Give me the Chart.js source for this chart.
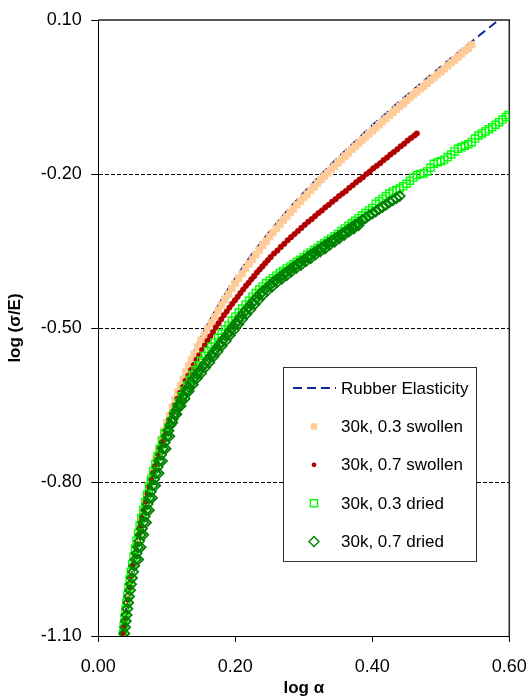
<!DOCTYPE html>
<html>
<head>
<meta charset="utf-8">
<script src="https://cdn.jsdelivr.net/npm/chart.js@4.4.1/dist/chart.umd.min.js"></script>
<style>
  html, body { margin: 0; padding: 0; background: #ffffff; }
  canvas { display: block; }
</style>
</head>
<body>
<canvas id="c" width="528" height="699"></canvas>
<script>
// ---------------- DATA ----------------
const seriesLabels = ['Rubber Elasticity', '30k, 0.3 swollen', '30k, 0.7 swollen', '30k, 0.3 dried', '30k, 0.7 dried'];
const xTickValues = [0.00, 0.20, 0.40, 0.60];
const yTickValues = [-1.10, -0.80, -0.50, -0.20, 0.10];

const rubberX = [0.035,0.04,0.045,0.05,0.055,0.06,0.065,0.07,0.08,0.09,0.10,0.11,0.12,0.13,0.14,0.15,0.16,0.17,0.18,0.19,0.20,0.22,0.24,0.26,0.28,0.30,0.32,0.34,0.36,0.38,0.40,0.42,0.44,0.46,0.48,0.50,0.52,0.54,0.56,0.58,0.59];
const rubberY = [-1.110,-1.054,-1.005,-0.962,-0.922,-0.887,-0.854,-0.823,-0.769,-0.722,-0.679,-0.641,-0.606,-0.574,-0.545,-0.517,-0.492,-0.468,-0.445,-0.423,-0.403,-0.364,-0.329,-0.296,-0.265,-0.236,-0.208,-0.181,-0.155,-0.130,-0.105,-0.082,-0.058,-0.036,-0.013,0.009,0.031,0.052,0.074,0.095,0.105];

const swollen03X = [0.037,0.038,0.040,0.042,0.044,0.046,0.048,0.050,0.053,0.056,0.059,0.062,0.065,0.068,0.071,0.074,0.077,0.080,0.084,0.088,0.092,0.096,0.100,0.104,0.108,0.112,0.116,0.120,0.124,0.128,0.132,0.136,0.140,0.145,0.150,
  0.155,0.160,0.165,0.170,0.175,0.180,0.185,0.190,0.195,0.200,0.205,0.210,0.215,0.220,0.225,0.230,0.235,0.240,0.245,0.250,0.255,0.260,0.265,0.270,0.275,0.280,0.285,0.290,0.295,0.300,0.305,0.310,0.315,0.320,0.325,0.330,0.335,0.340,0.345,0.350,0.355,0.360,0.365,0.370,0.375,0.380,0.385,0.390,0.395,0.400,0.405,0.410,0.415,0.420,0.425,0.430,0.435,0.440,0.445,0.450,0.455,0.460,0.465,0.470,0.475,0.480,0.485,0.490,0.495,0.500,0.505,0.510,0.515,0.520,0.525,0.530,0.535,0.540,0.545];
const swollen03Y = [-1.095,-1.080,-1.058,-1.038,-1.018,-1.000,-0.983,-0.966,-0.943,-0.920,-0.898,-0.878,-0.858,-0.840,-0.822,-0.805,-0.789,-0.774,-0.755,-0.735,-0.717,-0.700,-0.684,-0.670,-0.654,-0.640,-0.625,-0.612,-0.600,-0.586,-0.574,-0.562,-0.551,-0.537,-0.524,
  -0.514,-0.501,-0.490,-0.478,-0.466,-0.455,-0.444,-0.434,-0.423,-0.413,-0.403,-0.394,-0.384,-0.375,-0.366,-0.357,-0.348,-0.339,-0.331,-0.322,-0.314,-0.306,-0.298,-0.290,-0.283,-0.275,-0.268,-0.260,-0.253,-0.246,-0.239,-0.232,-0.225,-0.218,-0.211,-0.204,-0.198,-0.191,-0.185,-0.178,-0.172,-0.165,-0.159,-0.152,-0.146,-0.140,-0.134,-0.128,-0.122,-0.116,-0.110,-0.104,-0.098,-0.092,-0.086,-0.080,-0.074,-0.068,-0.063,-0.057,-0.051,-0.045,-0.040,-0.034,-0.029,-0.023,-0.017,-0.012,-0.006,-0.001,0.005,0.011,0.017,0.022,0.028,0.034,0.040,0.045,0.052];

const swollen07X = [0.0365,0.0385,0.0397,0.041,0.0435,0.046,0.0485,0.0515,0.054,0.0565,0.059,0.0615,0.064,0.067,0.0695,0.072,0.0745,0.0775,0.080,0.0825,0.085,0.0875,0.0905,0.093,0.096,0.0985,0.101,
  0.1035,0.1075,0.1115,0.1155,0.1195,0.1235,0.1275,0.1315,0.1355,0.1395,0.1435,0.1475,0.1515,0.1555,0.1595,0.1635,0.1675,0.1715,0.1755,0.1795,0.1835,0.1875,0.1915,0.1955,0.1995,0.2035,0.2075,0.2115,0.2155,0.2195,0.2235,0.2275,0.2315,0.2355,0.2395,0.2435,0.2475,0.2515,
  0.2565,0.2615,0.2665,0.2715,0.2765,0.2815,0.2865,0.2915,0.2965,0.3015,0.3065,0.3115,0.3165,0.3215,0.3265,0.3315,0.3365,0.3415,0.3465,0.3515,0.3565,0.3615,0.3665,0.3715,0.3765,0.3815,0.3865,0.3915,0.3965,0.4015,0.4065,0.4115,0.4165,0.4215,0.4265,0.4315,0.4365,0.4415,0.4465,0.4515,0.4565,0.4615,0.465];
const swollen07Y = [-1.094,-1.081,-1.067,-1.054,-1.029,-1.005,-0.983,-0.962,-0.941,-0.922,-0.904,-0.887,-0.870,-0.854,-0.838,-0.823,-0.809,-0.795,-0.782,-0.769,-0.757,-0.745,-0.733,-0.722,-0.711,-0.700,-0.690,
  -0.679,-0.665,-0.651,-0.638,-0.626,-0.615,-0.603,-0.593,-0.582,-0.572,-0.562,-0.553,-0.543,-0.534,-0.525,-0.516,-0.508,-0.499,-0.491,-0.483,-0.475,-0.468,-0.460,-0.453,-0.446,-0.439,-0.432,-0.425,-0.418,-0.412,-0.405,-0.399,-0.392,-0.386,-0.380,-0.374,-0.368,-0.362,
  -0.355,-0.349,-0.342,-0.336,-0.329,-0.323,-0.317,-0.311,-0.305,-0.299,-0.293,-0.288,-0.282,-0.276,-0.271,-0.265,-0.260,-0.254,-0.249,-0.243,-0.238,-0.233,-0.227,-0.222,-0.216,-0.211,-0.206,-0.200,-0.195,-0.189,-0.184,-0.179,-0.173,-0.168,-0.162,-0.157,-0.152,-0.146,-0.141,-0.135,-0.130,-0.125,-0.121];

const dried03X = [0.0360,0.0370,0.0382,0.0395,0.0409,0.0424,0.0440,0.0457,0.0475,0.0494,0.0514,0.0535,0.0557,0.0580,0.0604,0.0629,0.0655,0.0682,0.0710,0.0739,0.0769,0.0800,0.0832,0.0864,0.0897,0.0931,0.0966,
  0.102,0.106,0.110,0.114,0.118,0.122,0.126,0.130,0.134,0.138,0.142,0.146,0.150,
  0.155,0.160,0.165,0.170,0.175,0.180,0.185,0.190,0.195,0.200,0.205,0.210,0.215,0.220,0.225,0.230,0.235,0.240,0.245,0.250,0.255,0.260,0.265,0.270,0.275,0.280,0.285,0.290,0.295,0.300,0.305,0.310,0.315,0.320,0.325,0.330,0.335,0.340,0.345,0.350,0.355,0.360,0.365,0.370,0.375,0.380,0.385,0.390,0.395,0.400,0.405,0.410,0.415,0.420,0.425,0.430,0.435,0.440,
  0.445,0.450,0.455,0.460,0.465,0.470,0.475,0.480,0.485,0.490,0.495,0.500,0.505,0.510,0.515,0.520,0.525,0.530,0.535,0.540,0.545,0.550,0.555,0.560,0.565,0.570,0.575,0.580,0.585,0.590,0.595,0.599];
const dried03Y = [-1.095,-1.080,-1.065,-1.050,-1.035,-1.020,-1.005,-0.990,-0.975,-0.960,-0.945,-0.930,-0.915,-0.900,-0.885,-0.870,-0.855,-0.840,-0.825,-0.810,-0.795,-0.780,-0.765,-0.750,-0.735,-0.720,-0.705,
  -0.694,-0.681,-0.668,-0.656,-0.645,-0.633,-0.622,-0.612,-0.601,-0.591,-0.582,-0.573,-0.564,
  -0.554,-0.545,-0.536,-0.528,-0.519,-0.511,-0.503,-0.495,-0.486,-0.478,-0.470,-0.462,-0.454,-0.447,-0.439,-0.432,-0.425,-0.419,-0.413,-0.408,-0.403,-0.398,-0.393,-0.389,-0.384,-0.380,-0.376,-0.371,-0.367,-0.362,-0.357,-0.353,-0.348,-0.344,-0.339,-0.335,-0.330,-0.326,-0.321,-0.317,-0.311,-0.306,-0.301,-0.296,-0.291,-0.286,-0.281,-0.276,-0.271,-0.266,-0.258,-0.253,-0.248,-0.243,-0.238,-0.234,-0.231,-0.228,
  -0.224,-0.219,-0.213,-0.207,-0.202,-0.200,-0.199,-0.195,-0.188,-0.180,-0.177,-0.175,-0.172,-0.167,-0.162,-0.156,-0.151,-0.148,-0.145,-0.142,-0.138,-0.131,-0.125,-0.121,-0.117,-0.113,-0.109,-0.104,-0.099,-0.094,-0.089,-0.085];

const dried07X = [0.0380,0.0391,0.0402,0.0413,0.0425,0.0437,0.0450,0.0464,0.0478,0.0493,0.0509,0.0525,0.0542,0.0560,0.0578,0.0597,0.0616,0.0636,0.0656,0.0677,0.0699,0.0721,0.0744,0.0767,0.0791,0.0815,0.0840,0.0865,0.0890,0.0916,0.0942,0.0969,0.0997,
  0.1025,0.1055,0.1085,0.1115,0.1145,0.1180,0.1215,0.1250,0.1285,0.1320,0.1360,0.1400,0.1440,0.1480,0.1520,0.1560,0.1600,0.1640,0.1680,0.1720,0.1760,0.1800,0.1840,0.1880,0.1920,0.1960,0.2000,0.2040,0.2080,0.2120,0.2160,0.2200,0.2240,0.2280,0.2320,0.2360,
  0.240,0.245,0.250,0.255,0.260,0.265,0.270,0.275,0.280,0.285,0.290,0.295,0.300,0.305,0.310,0.315,0.320,0.325,0.330,0.335,0.340,0.345,0.350,0.355,0.360,0.365,0.370,0.375,0.380,0.385,0.390,0.395,0.400,0.405,0.410,0.415,0.420,0.425,0.430,0.435,0.440,
  0.0582,0.0618,0.0656,0.0696,0.0739,0.0784,0.0831,0.0880,0.0930,0.0982,0.1037,
  0.108,0.114,0.120,0.126,0.132,0.138,0.144,0.150,0.156,0.162,0.168,0.174,0.180,0.186,0.192,0.198,0.204,0.210,0.216,0.222,0.228,0.234,0.240,
  0.247,0.254,0.261,0.268,0.275,0.282,0.289,0.296,0.303,0.310,0.317,0.324,0.331,0.338,0.345,0.352,0.359,0.366,0.373,0.380];
const dried07Y = [-1.095,-1.083,-1.071,-1.059,-1.047,-1.035,-1.023,-1.011,-0.999,-0.987,-0.975,-0.963,-0.951,-0.939,-0.927,-0.915,-0.903,-0.891,-0.879,-0.867,-0.855,-0.843,-0.831,-0.819,-0.807,-0.795,-0.783,-0.771,-0.759,-0.747,-0.735,-0.723,-0.711,
  -0.700,-0.689,-0.678,-0.668,-0.659,-0.650,-0.641,-0.632,-0.623,-0.615,-0.606,-0.598,-0.590,-0.583,-0.576,-0.569,-0.562,-0.555,-0.548,-0.541,-0.534,-0.527,-0.520,-0.513,-0.506,-0.499,-0.492,-0.485,-0.478,-0.471,-0.465,-0.459,-0.452,-0.446,-0.440,-0.434,
  -0.429,-0.423,-0.417,-0.411,-0.406,-0.401,-0.396,-0.391,-0.386,-0.381,-0.376,-0.372,-0.367,-0.362,-0.358,-0.353,-0.349,-0.344,-0.340,-0.335,-0.331,-0.326,-0.322,-0.317,-0.313,-0.308,-0.304,-0.299,-0.295,-0.290,-0.286,-0.281,-0.277,-0.273,-0.268,-0.264,-0.260,-0.255,-0.251,-0.247,-0.243,
  -0.951,-0.927,-0.903,-0.879,-0.855,-0.831,-0.807,-0.783,-0.759,-0.735,-0.711,
  -0.684,-0.668,-0.652,-0.638,-0.623,-0.610,-0.598,-0.588,-0.577,-0.567,-0.556,-0.546,-0.535,-0.525,-0.514,-0.504,-0.493,-0.483,-0.473,-0.464,-0.454,-0.445,-0.436,
  -0.427,-0.419,-0.411,-0.404,-0.397,-0.390,-0.383,-0.377,-0.370,-0.364,-0.357,-0.351,-0.345,-0.338,-0.332,-0.325,-0.319,-0.312,-0.306,-0.300];

// ---------------- HELPERS ----------------
function pts(xs, ys) { return xs.map((x, i) => ({ x: x, y: ys[i] })); }
const FONT = '"Liberation Sans", Arial, Helvetica, sans-serif';
Chart.defaults.font.family = FONT;
Chart.defaults.color = '#000000';

const COLORS = {
  rubber: '#0A2A96',
  s03: '#FFCC99',
  s07: '#B00000',
  d03: '#00FF00',
  d07: '#008000'
};

const legendSpec = [
  { kind: 'line', color: COLORS.rubber },
  { kind: 'rect', fill: COLORS.s03, size: 6.4 },
  { kind: 'circle', fill: COLORS.s07, r: 2.4 },
  { kind: 'rectOpen', stroke: COLORS.d03, size: 7.2 },
  { kind: 'diamond', stroke: COLORS.d07, r: 5 }
];

const frameAndLegend = {
  id: 'frameAndLegend',
  beforeDatasetsDraw(chart) {
    const { ctx, chartArea: a } = chart;
    ctx.save();
    ctx.strokeStyle = '#222222';
    ctx.lineWidth = 1.5;
    ctx.beginPath();
    ctx.moveTo(a.left, a.top);
    ctx.lineTo(a.right, a.top);
    ctx.lineTo(a.right, a.bottom);
    ctx.stroke();
    ctx.restore();
  },
  afterDatasetsDraw(chart) {
    const ctx = chart.ctx;
    const L = 283, T = 367, R = 477, B = 562;
    ctx.save();
    ctx.fillStyle = '#ffffff';
    ctx.fillRect(L, T, R - L, B - T);
    ctx.strokeStyle = '#333333';
    ctx.lineWidth = 1;
    ctx.strokeRect(L + 0.5, T + 0.5, R - L - 1, B - T - 1);
    const cx = 314;
    chart.data.datasets.forEach((ds, i) => {
      const y = 388 + i * 38.4;
      const s = legendSpec[i];
      ctx.save();
      if (s.kind === 'line') {
        ctx.strokeStyle = s.color;
        ctx.lineWidth = 2;
        ctx.setLineDash([9, 5]);
        ctx.beginPath();
        ctx.moveTo(293, y);
        ctx.lineTo(336, y);
        ctx.stroke();
      } else if (s.kind === 'rect') {
        ctx.fillStyle = s.fill;
        ctx.fillRect(cx - s.size / 2, y - s.size / 2, s.size, s.size);
      } else if (s.kind === 'circle') {
        ctx.fillStyle = s.fill;
        ctx.beginPath();
        ctx.arc(cx, y, s.r, 0, Math.PI * 2);
        ctx.fill();
      } else if (s.kind === 'rectOpen') {
        ctx.strokeStyle = s.stroke;
        ctx.lineWidth = 1.4;
        ctx.strokeRect(cx - s.size / 2, y - s.size / 2, s.size, s.size);
      } else if (s.kind === 'diamond') {
        ctx.strokeStyle = s.stroke;
        ctx.lineWidth = 1.4;
        ctx.beginPath();
        ctx.moveTo(cx, y - s.r);
        ctx.lineTo(cx + s.r, y);
        ctx.lineTo(cx, y + s.r);
        ctx.lineTo(cx - s.r, y);
        ctx.closePath();
        ctx.stroke();
      }
      ctx.restore();
      ctx.fillStyle = '#000000';
      ctx.font = '17px ' + FONT;
      ctx.textAlign = 'left';
      ctx.textBaseline = 'middle';
      ctx.fillText(ds.label, 341, y + 1);
    });
    ctx.restore();
  }
};

const innerGrid = [-0.20, -0.50, -0.80];

new Chart(document.getElementById('c'), {
  type: 'scatter',
  data: {
    datasets: [
      {
        label: seriesLabels[0],
        data: pts(rubberX, rubberY),
        showLine: true,
        borderColor: COLORS.rubber,
        borderWidth: 2,
        borderDash: [9, 5],
        pointRadius: 0,
        pointHoverRadius: 0,
        tension: 0,
        order: 5
      },
      {
        label: seriesLabels[1],
        data: pts(swollen03X, swollen03Y),
        pointStyle: 'rect',
        pointRadius: 4.6,
        backgroundColor: COLORS.s03,
        borderColor: COLORS.s03,
        borderWidth: 1,
        order: 4
      },
      {
        label: seriesLabels[2],
        data: pts(swollen07X, swollen07Y),
        pointStyle: 'circle',
        pointRadius: 2.8,
        backgroundColor: COLORS.s07,
        borderColor: COLORS.s07,
        borderWidth: 0.5,
        order: 3
      },
      {
        label: seriesLabels[3],
        data: pts(dried03X, dried03Y),
        pointStyle: 'rect',
        pointRadius: 5,
        backgroundColor: 'rgba(0,0,0,0)',
        borderColor: COLORS.d03,
        borderWidth: 1.4,
        order: 2
      },
      {
        label: seriesLabels[4],
        data: pts(dried07X, dried07Y),
        pointStyle: 'rectRot',
        pointRadius: 5,
        backgroundColor: 'rgba(0,0,0,0)',
        borderColor: COLORS.d07,
        borderWidth: 1.8,
        order: 1
      }
    ]
  },
  options: {
    responsive: false,
    devicePixelRatio: 1,
    animation: false,
    events: [],
    layout: { padding: { top: 20, right: 18.7, bottom: 0, left: 0 } },
    plugins: {
      legend: { display: false },
      tooltip: { enabled: false },
      title: { display: false }
    },
    scales: {
      x: {
        type: 'linear',
        min: 0,
        max: 0.6,
        afterBuildTicks: (s) => { s.ticks = xTickValues.map(v => ({ value: v })); },
        afterFit: (s) => { s.height = 63; s.paddingLeft = 0; s.paddingRight = 0; },
        ticks: {
          callback: (v) => Number(v).toFixed(2),
          font: { size: 18 },
          color: '#000000',
          padding: 14,
          maxRotation: 0,
          autoSkip: false
        },
        grid: {
          drawOnChartArea: false,
          drawTicks: true,
          tickLength: 6,
          tickColor: '#000000',
          tickWidth: 1
        },
        border: { display: true, color: '#000000', width: 1 },
        title: {
          display: true,
          text: 'log α',
          font: { size: 17, weight: 'bold' },
          color: '#000000',
          padding: { top: 0, bottom: 0 }
        }
      },
      y: {
        type: 'linear',
        min: -1.1,
        max: 0.1,
        afterBuildTicks: (s) => { s.ticks = yTickValues.map(v => ({ value: v })); },
        afterFit: (s) => { s.width = 98.3; s.paddingTop = 0; s.paddingBottom = 0; },
        ticks: {
          callback: (v) => Number(v).toFixed(2),
          font: { size: 18 },
          color: '#000000',
          padding: 9.5,
          autoSkip: false
        },
        grid: {
          color: (c) => (c.tick && innerGrid.some(v => Math.abs(v - c.tick.value) < 1e-6)) ? '#000000' : 'rgba(0,0,0,0)',
          lineWidth: 1,
          drawTicks: true,
          tickLength: 7,
          tickColor: '#000000',
          tickWidth: 1
        },
        border: { display: true, color: '#000000', width: 1, dash: [4, 2] },
        title: {
          display: true,
          text: 'log (σ/E)',
          font: { size: 17, weight: 'bold' },
          color: '#000000',
          padding: { top: 5.6, bottom: 0 }
        }
      }
    }
  },
  plugins: [frameAndLegend]
});
</script>
</body>
</html>
